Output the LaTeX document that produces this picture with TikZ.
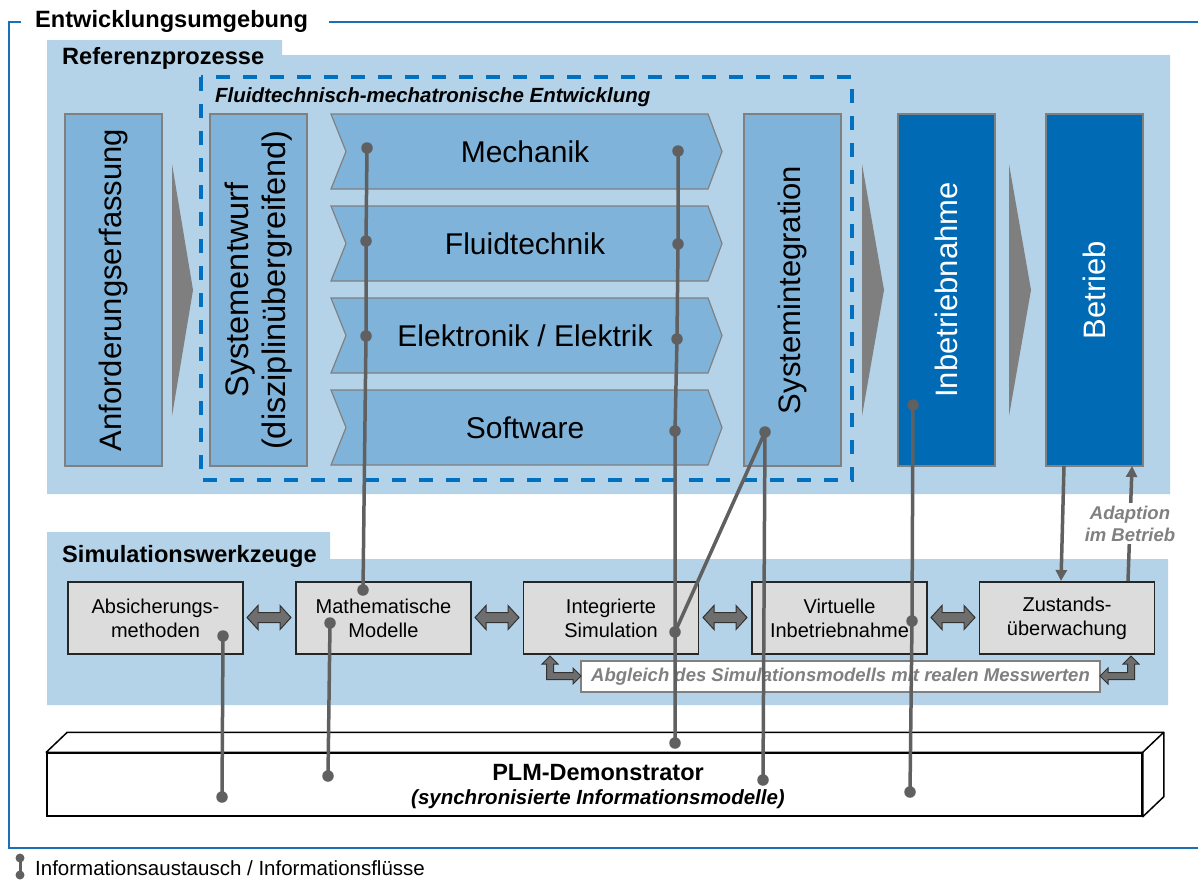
\documentclass[tikz,border=0pt]{standalone}
\usepackage{fontspec}
\setmainfont{Liberation Sans}
\usetikzlibrary{arrows.meta,calc}
\definecolor{regblue}{HTML}{B4D3E8}
\definecolor{procblue}{HTML}{7FB3D9}
\definecolor{darkblue}{HTML}{006AB5}
\definecolor{frameblue}{HTML}{1A6FB7}
\definecolor{dashblue}{HTML}{0070C0}
\definecolor{trigray}{HTML}{7F7F7F}
\definecolor{edgegray}{HTML}{808080}
\definecolor{conngray}{HTML}{606060}
\definecolor{simgray}{HTML}{DCDCDC}
\definecolor{txtgray}{HTML}{808080}
\definecolor{arrgray}{HTML}{6E6E6E}
\newcommand\chev[3]{%
  \path[chevshape] (331,#1) -- (708,#1) -- (722,{#1+37.5}) -- (708,{#1+75}) -- (331,{#1+75}) -- (346,{#1+37.5}) -- cycle;
  \node[chevtext] (#2) at (525,{#1+37.5}) {#3};}
\newcommand\dblarr[2]{%
  \draw[blkarr] (#1,617.5) -- ({#1+11},605.5) -- ({#1+11},612.5) -- ({#2-11},612.5) -- ({#2-11},605.5) -- (#2,617.5) -- ({#2-11},629.5) -- ({#2-11},622.5) -- ({#1+11},622.5) -- ({#1+11},629.5) -- cycle;}
\begin{document}
\begin{tikzpicture}[x=1pt,y=-1pt,
  conn/.style={draw=conngray, line width=3.5pt},
  dot/.style={circle, fill=conngray, inner sep=0pt, minimum size=11.5pt},
  procbox/.style={draw=edgegray, fill=procblue, line width=1.2pt, inner sep=0pt, rotate=90,
     minimum width=352pt, minimum height=97pt, align=center, font=\fontsize{31}{36}\selectfont},
  darkbox/.style={procbox, fill=darkblue, text=white},
  chevshape/.style={draw=edgegray, fill=procblue, line width=1.2pt},
  chevtext/.style={inner sep=0pt, font=\fontsize{30}{35}\selectfont},
  tri/.style={fill=trigray},
  simbox/.style={draw=black!85, fill=simgray, line width=1.3pt, minimum width=175pt, minimum height=72pt,
     inner sep=0pt, align=center, font=\fontsize{20}{24}\selectfont},
  blkarr/.style={draw=black!80, fill=arrgray, line width=1pt, line join=miter},
  frameline/.style={draw=frameblue, line width=2pt},
  regtitle/.style={anchor=base west, inner sep=0pt, font=\bfseries\fontsize{23.6}{28}\selectfont},
  adapt/.style={draw=conngray, line width=3.5pt, -{Triangle[length=11pt,width=11pt]}},
  graylbl/.style={text=txtgray, font=\bfseries\itshape\fontsize{18.5}{22}\selectfont},
]
\useasboundingbox (0,0) rectangle (1198,879);
\fill[white] (0,0) rectangle (1198,879);
% regions
\fill[regblue] (47,494) -- (47,40) -- (282,40) -- (282,55) -- (1170,55) -- (1170,494) -- cycle;
\fill[regblue] (47,705) -- (47,532) -- (330,532) -- (330,559) -- (1168,559) -- (1168,705) -- cycle;
% outer frame
\draw[frameline] (21,22) -- (9,22) -- (9,848) -- (1198,848);
\draw[frameline] (329,22) -- (1198,22);
\node[regtitle] (entw) at (35,27) {Entwicklungsumgebung};
\node[regtitle] (refp) at (62,64) {Referenzprozesse};
\node[regtitle] (simw) at (62,562) {Simulationswerkzeuge};
% process boxes
\node[procbox] (anf) at (113.5,290) {Anforderungserfassung};
\node[procbox, font=\fontsize{32.5}{37}\selectfont] (sysent) at (258.5,290) {Systementwurf\\(disziplinübergreifend)};
\node[procbox] (sysint) at (792.5,290) {Systemintegration};
\node[darkbox] (inb) at (946.5,290) {Inbetriebnahme};
\node[darkbox] (betr) at (1094.5,290) {Betrieb};
\chev{114}{mech}{Mechanik}
\chev{206}{fluid}{Fluidtechnik}
\chev{298}{elek}{Elektronik / Elektrik}
\chev{390}{soft}{Software}
% triangles
\fill[tri] (172,164) -- (193,290) -- (172,416) -- cycle;
\fill[tri] (862,164) -- (884,290) -- (862,416) -- cycle;
\fill[tri] (1009,164) -- (1031,290) -- (1009,416) -- cycle;
% dashed box
\draw[draw=dashblue, line width=3.5pt, dash pattern=on 14pt off 13pt] (201,77) rectangle (852,480);
\node[anchor=base west, inner sep=0pt, font=\bfseries\itshape\fontsize{20.5}{24}\selectfont] (fme) at (215,102) {Fluidtechnisch-mechatronische Entwicklung};
% simulation boxes
\node[simbox] (abs) at (155.5,618) {Absicherungs-\\methoden};
\node[simbox] (mat) at (383.5,618) {Mathematische\\Modelle};
\node[simbox] (ints) at (611,618) {Integrierte\\Simulation};
\node[simbox] (vib) at (839.5,618) {Virtuelle\\Inbetriebnahme};
\node[simbox] (zust) at (1067,618) {Zustands-\\überwachung};
\dblarr{247}{291}
\dblarr{475}{519}
\dblarr{703}{747}
\dblarr{931}{975}
% Abgleich
\node[draw=edgegray, fill=white, line width=1.2pt, minimum width=519pt, minimum height=31pt, inner sep=0pt, graylbl] (abg) at (840.5,676.5) {Abgleich des Simulationsmodells mit realen Messwerten};
\draw[blkarr] (550,656) -- (558,664) -- (553.5,664) -- (553.5,672.5) -- (573,672.5) -- (573,668) -- (581,676) -- (573,684) -- (573,679.5) -- (546.5,679.5) -- (546.5,664) -- (542,664) -- cycle;
\draw[blkarr] (1131,656) -- (1139,664) -- (1134.5,664) -- (1134.5,679.5) -- (1108,679.5) -- (1108,684) -- (1100,676) -- (1108,668) -- (1108,672.5) -- (1127.5,672.5) -- (1127.5,664) -- (1123,664) -- cycle;
% PLM box
\node[draw, line width=1.5pt, fill=white, minimum width=1095pt, minimum height=63pt, inner sep=0pt] (plm) at (594.5,784.5) {};
\draw[line width=1.5pt, fill=white, line join=round] (plm.north west) -- ++(21,-20) -- ($(plm.north east)+(21,-20)$) -- ($(plm.south east)+(21,-20)$) -- (plm.south east) -- (plm.north east) -- cycle;
\draw[line width=1.5pt] (plm.north east) -- ++(21,-20);
\node[anchor=base, inner sep=0pt, font=\bfseries\fontsize{23.5}{28}\selectfont] (plmt) at (598,780) {PLM-Demonstrator};
\node[anchor=base, inner sep=0pt, font=\bfseries\itshape\fontsize{20.5}{24}\selectfont] (plms) at (598,804) {(synchronisierte Informationsmodelle)};
% Adaption arrows
\coordinate (bd1) at (1064,466);
\coordinate (bd2) at (1061,581);
\coordinate (bu1) at (1128,581);
\coordinate (bu2) at (1132,466);
\draw[adapt] (bd1) -- (bd2);
\draw[adapt] (bu1) -- node[fill=white, inner sep=3pt, align=center, graylbl] (adlbl) {Adaption\\im Betrieb} (bu2);
% dots
\node[dot] (m1) at (367,148) {};
\node[dot] (f1) at (366,241) {};
\node[dot] (e1) at (366,336) {};
\node[dot] (mm1) at (363,590) {};
\node[dot] (m2) at (678,151) {};
\node[dot] (f2) at (678,244) {};
\node[dot] (e2) at (677,339) {};
\node[dot] (s2) at (675,431) {};
\node[dot] (is2) at (675,632) {};
\node[dot] (p2) at (675,743) {};
\node[dot] (si) at (765,432) {};
\node[dot] (p3) at (763,780) {};
\node[dot] (ib) at (913,405) {};
\node[dot] (vi) at (912,621) {};
\node[dot] (p4) at (910,792) {};
\node[dot] (mm2) at (330,623) {};
\node[dot] (p5) at (328,776) {};
\node[dot] (ab) at (223,636) {};
\node[dot] (p6) at (222,797) {};
% connectors
\draw[conn] (m1.center) -- (f1.center) -- (e1.center) -- (mm1.center);
\draw[conn] (m2.center) -- (f2.center) -- (e2.center) -- (s2.center) -- (is2.center) -- (p2.center);
\draw[conn] (si.center) -- (is2.center);
\draw[conn] (si.center) -- (p3.center);
\draw[conn] (ib.center) -- (vi.center) -- (p4.center);
\draw[conn] (mm2.center) -- (p5.center);
\draw[conn] (ab.center) -- (p6.center);
% legend
\node[dot, minimum size=9pt] (lg1) at (20,858) {};
\node[dot, minimum size=9pt] (lg2) at (20,875) {};
\draw[conn, line width=3pt] (lg1.center) -- (lg2.center);
\node[anchor=base west, inner sep=0pt, font=\fontsize{20.5}{24}\selectfont] (lgt) at (35,875) {Informationsaustausch / Informationsflüsse};
\end{tikzpicture}
\end{document}
